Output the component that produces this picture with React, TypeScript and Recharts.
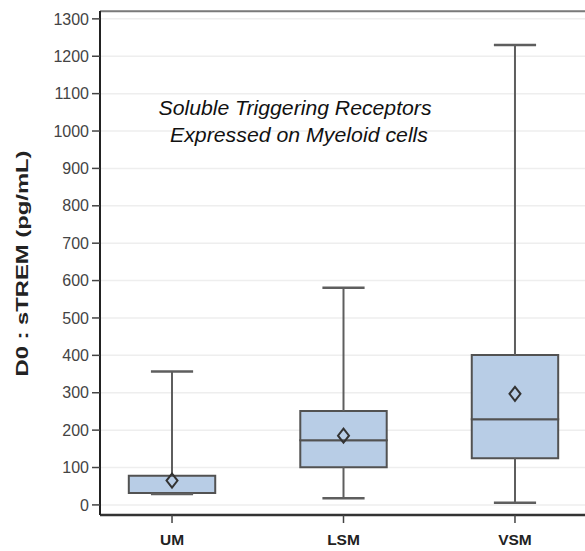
import { ComposedChart, Scatter, XAxis, YAxis, CartesianGrid, ReferenceArea, ReferenceLine } from 'recharts'

const categories = ['UM', 'LSM', 'VSM']
const whiskerLow = [29, 18, 6]
const q1 = [32, 101, 125]
const median = [32, 173, 229]
const q3 = [78, 251, 401]
const whiskerHigh = [357, 581, 1230]
const mean = [65, 185, 297]
const yTicks = [0, 100, 200, 300, 400, 500, 600, 700, 800, 900, 1000, 1100, 1200, 1300]

const FONT = '"Liberation Sans", Arial, Helvetica, sans-serif'
const BOX_HALF = 0.252
const CAP_HALF = 0.123
const BOX_FILL = '#b8cde6'
const BOX_STROKE = '#525252'
const WHISKER = '#5e5e5e'

const meanPoints = categories.map((c, i) => ({ x: i + 1, y: mean[i], name: c }))

// hollow diamond used for the group mean
function Diamond(props: any) {
  const { cx, cy } = props
  if (cx == null || cy == null) return null
  const w = 5.5
  const h = 7
  return (
    <path
      d={`M${cx},${cy - h} L${cx + w},${cy} L${cx},${cy + h} L${cx - w},${cy} Z`}
      fill="none"
      stroke="#333"
      strokeWidth={2}
    />
  )
}

export default function App() {
  return (
    <div style={{ position: 'absolute', left: 0, top: 0, width: 585, height: 551, overflow: 'hidden', background: '#fff' }}>
      <ComposedChart width={620} height={551} margin={{ top: 11, right: 33, bottom: 0, left: 0 }}>
        <CartesianGrid vertical={false} stroke="#eeeeee" strokeWidth={1.5} />
        <XAxis
          type="number"
          dataKey="x"
          domain={[0.58, 3.42]}
          ticks={[1, 2, 3]}
          allowDataOverflow
          tickFormatter={(v) => categories[v - 1]}
          height={36}
          tickSize={8}
          tickMargin={11}
          tick={{ fill: '#222', fontSize: 15.5, fontWeight: 'bold', fontFamily: FONT }}
          axisLine={{ stroke: '#333', strokeWidth: 2.5 }}
          tickLine={{ stroke: '#444', strokeWidth: 1.5 }}
        />
        <YAxis
          type="number"
          dataKey="y"
          domain={[-27, 1321]}
          ticks={yTicks}
          allowDataOverflow
          width={100}
          tickSize={8}
          tickMargin={3}
          tick={{ fill: '#444', fontSize: 16, fontFamily: FONT }}
          axisLine={{ stroke: '#222', strokeWidth: 2 }}
          tickLine={{ stroke: '#444', strokeWidth: 1.5 }}
        />
        <ReferenceLine y={1320} stroke="#7a7a7a" strokeWidth={2} />
        {categories.map((c, i) => (
          <ReferenceArea
            key={`lo-${c}`}
            x1={i + 1 - BOX_HALF}
            x2={i + 1 + BOX_HALF}
            y1={q1[i]}
            y2={median[i]}
            fill={BOX_FILL}
            fillOpacity={1}
            stroke={BOX_STROKE}
            strokeWidth={2}
          />
        ))}
        {categories.map((c, i) => (
          <ReferenceArea
            key={`hi-${c}`}
            x1={i + 1 - BOX_HALF}
            x2={i + 1 + BOX_HALF}
            y1={median[i]}
            y2={q3[i]}
            fill={BOX_FILL}
            fillOpacity={1}
            stroke={BOX_STROKE}
            strokeWidth={2}
          />
        ))}
        {categories.map((c, i) => (
          <ReferenceLine
            key={`wu-${c}`}
            segment={[{ x: i + 1, y: q3[i] }, { x: i + 1, y: whiskerHigh[i] }]}
            stroke={WHISKER}
            strokeWidth={2}
          />
        ))}
        {categories.map((c, i) => (
          <ReferenceLine
            key={`wl-${c}`}
            segment={[{ x: i + 1, y: whiskerLow[i] }, { x: i + 1, y: q1[i] }]}
            stroke={WHISKER}
            strokeWidth={2}
          />
        ))}
        {categories.map((c, i) => (
          <ReferenceLine
            key={`cu-${c}`}
            segment={[{ x: i + 1 - CAP_HALF, y: whiskerHigh[i] }, { x: i + 1 + CAP_HALF, y: whiskerHigh[i] }]}
            stroke={WHISKER}
            strokeWidth={2.5}
          />
        ))}
        {categories.map((c, i) => (
          <ReferenceLine
            key={`cl-${c}`}
            segment={[{ x: i + 1 - CAP_HALF, y: whiskerLow[i] }, { x: i + 1 + CAP_HALF, y: whiskerLow[i] }]}
            stroke={WHISKER}
            strokeWidth={2.5}
          />
        ))}
        <Scatter data={meanPoints} shape={<Diamond />} isAnimationActive={false} />
      </ComposedChart>
      <svg width={585} height={551} style={{ position: 'absolute', left: 0, top: 0, pointerEvents: 'none' }}>
        <text
          transform="translate(28,263.5) rotate(-90)"
          textAnchor="middle"
          fontFamily={FONT}
          fontSize={17}
          fontWeight="bold"
          fill="#222"
          textLength={226}
          lengthAdjust="spacingAndGlyphs"
        >
          D0 : sTREM (pg/mL)
        </text>
        <text x={295} y={115} textAnchor="middle" fontFamily={FONT} fontSize={19.5} fontStyle="italic" fill="#111" textLength={273} lengthAdjust="spacingAndGlyphs">
          Soluble Triggering Receptors
        </text>
        <text x={299} y={142} textAnchor="middle" fontFamily={FONT} fontSize={19.5} fontStyle="italic" fill="#111" textLength={258} lengthAdjust="spacingAndGlyphs">
          Expressed on Myeloid cells
        </text>
      </svg>
    </div>
  )
}
